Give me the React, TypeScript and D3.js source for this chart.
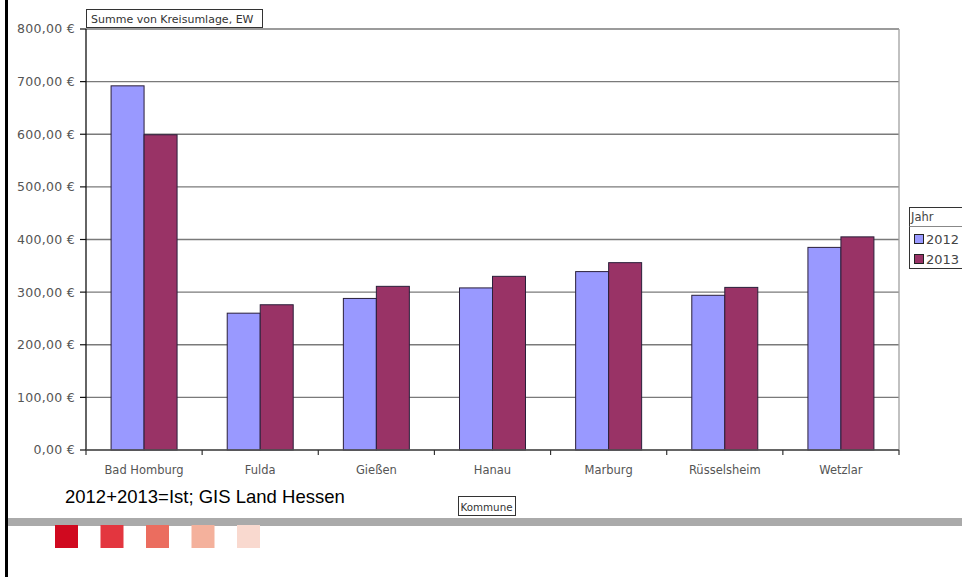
import React from "react";
import * as d3 from "d3";

const communes = ["Bad Homburg", "Fulda", "Gießen", "Hanau", "Marburg", "Rüsselsheim", "Wetzlar"];
const years = ["2012", "2013"];
const values2012 = [692, 260, 288, 308, 339, 294, 385];
const values2013 = [599, 276, 311, 330, 356, 309, 405];
const yTicks = [0, 100, 200, 300, 400, 500, 600, 700, 800];
const swatches = ["#d0091f", "#e3363f", "#eb6d5f", "#f4b19c", "#f9d9cf"];

const seriesColors: Record<string, string> = { "2012": "#9999ff", "2013": "#993366" };
const seriesValues: Record<string, number[]> = { "2012": values2012, "2013": values2013 };

const W = 962;
const H = 577;
const plot = { left: 86, right: 899, top: 29, bottom: 450 };
const axisFont = "'DejaVu Sans', sans-serif";

const fmtEuro = (v: number) =>
  d3.format(",.2f")(v).replace(/,/g, "#").replace(".", ",").replace(/#/g, ".") + " €";

export default function App() {
  const x = d3.scaleBand<string>().domain(communes).range([plot.left, plot.right]).padding(0);
  const xInner = d3
    .scaleBand<string>()
    .domain(years)
    .range([0, x.bandwidth()])
    .paddingInner(0)
    .paddingOuter(0.76);
  const y = d3.scaleLinear().domain([0, 800]).range([plot.bottom, plot.top]);

  const boundaries = communes.map((c) => x(c)!).concat([plot.right]);

  return (
    <svg
      width={W}
      height={H}
      style={{ position: "absolute", left: 0, top: 0, background: "#fff" }}
      fontFamily={axisFont}
    >
      <rect x={0} y={0} width={W} height={H} fill="#fff" />

      {/* gridlines */}
      {yTicks.map((t) => (
        <line
          key={"g" + t}
          x1={plot.left}
          x2={plot.right}
          y1={y(t)}
          y2={y(t)}
          stroke="#7a7a7a"
          strokeWidth={1.3}
        />
      ))}
      <line x1={plot.right} x2={plot.right} y1={plot.top} y2={plot.bottom} stroke="#a0a0a0" strokeWidth={1.3} />

      {/* bars */}
      {communes.map((c, i) => (
        <g key={c} transform={`translate(${x(c)},0)`}>
          {years.map((yr) => {
            const v = seriesValues[yr][i];
            return (
              <rect
                key={yr}
                x={xInner(yr)}
                y={y(v)}
                width={xInner.bandwidth()}
                height={plot.bottom - y(v)}
                fill={seriesColors[yr]}
                stroke="#2a1f3a"
                strokeWidth={1}
              />
            );
          })}
        </g>
      ))}

      {/* y axis */}
      <line x1={plot.left} x2={plot.left} y1={plot.top} y2={plot.bottom} stroke="#111" strokeWidth={1.3} />
      {yTicks.map((t) => (
        <g key={"t" + t}>
          <line x1={plot.left - 6} x2={plot.left} y1={y(t)} y2={y(t)} stroke="#111" strokeWidth={1.2} />
          <text
            x={plot.left - 11}
            y={y(t)}
            dy="0.35em"
            textAnchor="end"
            fontSize={12.5}
            letterSpacing={0.3}
            fill="#555"
          >
            {fmtEuro(t)}
          </text>
        </g>
      ))}

      {/* x axis */}
      <line x1={plot.left} x2={plot.right} y1={plot.bottom} y2={plot.bottom} stroke="#555" strokeWidth={1.5} />
      {boundaries.map((b, i) => (
        <line key={"xt" + i} x1={b} x2={b} y1={plot.bottom} y2={plot.bottom + 5} stroke="#333" strokeWidth={1.2} />
      ))}
      {communes.map((c) => (
        <text
          key={"l" + c}
          x={x(c)! + x.bandwidth() / 2}
          y={474}
          textAnchor="middle"
          fontSize={11.5}
          fill="#555"
        >
          {c}
        </text>
      ))}

      {/* field buttons */}
      <rect x={86.5} y={9.5} width={176} height={18} fill="#fff" stroke="#333" strokeWidth={1} />
      <text x={91} y={22.5} fontSize={11} fill="#333">
        Summe von Kreisumlage, EW
      </text>
      <rect x={458.5} y={496.5} width={57} height={19} fill="#fff" stroke="#333" strokeWidth={1} />
      <text x={460.5} y={510.5} fontSize={10.3} fill="#333">
        Kommune
      </text>

      {/* legend */}
      <rect x={909.5} y={207.5} width={60} height={61} fill="#fff" stroke="#333" strokeWidth={1} />
      <line x1={909.5} x2={970} y1={226.5} y2={226.5} stroke="#888" strokeWidth={1} />
      <text x={911} y={221} fontSize={11.5} fill="#444">
        Jahr
      </text>
      {years.map((yr, i) => (
        <g key={"lg" + yr} transform={`translate(0,${i * 20})`}>
          <rect x={914.5} y={234.5} width={9} height={9} fill={seriesColors[yr]} stroke="#222" strokeWidth={1} />
          <text x={926} y={244} fontSize={13} fill="#444">
            {yr}
          </text>
        </g>
      ))}

      {/* source note */}
      <text x={65} y={503} fontSize={18.5} fontFamily="'Liberation Sans', Arial, sans-serif" fill="#000">
        2012+2013=Ist; GIS Land Hessen
      </text>

      {/* page decorations */}
      <rect x={5} y={0} width={3} height={H} fill="#000" />
      <rect x={8} y={518} width={W - 8} height={8} fill="#aaaaaa" />
      {swatches.map((c, i) => (
        <rect key={c} x={55 + i * 45.5} y={525} width={23} height={23} fill={c} />
      ))}
    </svg>
  );
}
